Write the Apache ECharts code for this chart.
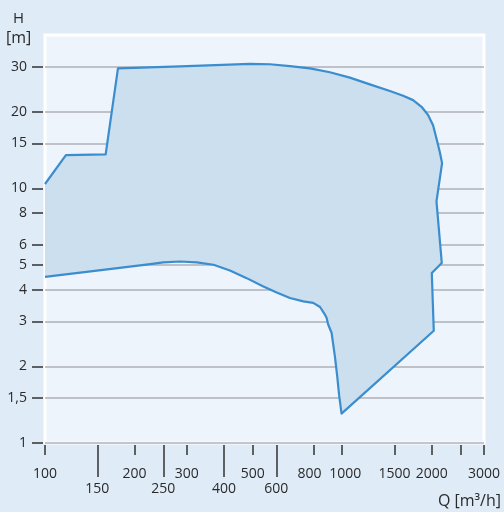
<!DOCTYPE html>
<html><head><meta charset="utf-8">
<script src="https://cdn.jsdelivr.net/npm/echarts@6/dist/echarts.min.js"></script>
<style>html,body{margin:0;padding:0;background:#dfebf7}#c{width:504px;height:512px}</style>
</head><body><div id="c"></div>
<script>
// Operating-range outline (Q in m³/h, H in m), traced clockwise from the left edge
const flowQ = [100, 117.6, 160, 176, 285, 490, 571, 667, 779, 909, 1061, 1239, 1447, 1603, 1732, 1849, 1945, 2022, 2076, 2130, 2168,
  2076, 2163, 2002, 2033,
  995, 977, 962, 945, 921, 897, 886, 875, 842, 799, 740, 667, 602, 543, 477, 419, 369, 324, 285, 250, 226, 184, 100];
const headH = [10.4, 13.5, 13.6, 29.6, 30.1, 30.8, 30.7, 30.2, 29.6, 28.56, 27.2, 25.6, 24.1, 23.1, 22.2, 20.9, 19.4, 17.7, 15.7, 13.9, 12.56,
  8.88, 5.09, 4.65, 2.76,
  1.305, 1.53, 1.83, 2.19, 2.71, 2.92, 3.10, 3.19, 3.42, 3.55, 3.60, 3.71, 3.90, 4.12, 4.44, 4.76, 5.01, 5.12, 5.16, 5.12, 5.04, 4.89, 4.49];
const yTickValues = [1, 1.5, 2, 3, 4, 5, 6, 8, 10, 15, 20, 30];
const xTickValues = [100, 150, 200, 250, 300, 400, 500, 600, 800, 1000, 1500, 2000, 2500, 3000];
const xLabelsUpper = [100, 200, 300, 500, 800, 1000, 1500, 2000, 3000];
const xLabelsLower = [150, 250, 400, 600];

const chart = echarts.init(document.getElementById('c'), null, {renderer: 'canvas'});
const font = 'Open Sans';
const textColor = '#2a2a2a';
const tickStyle = {color: '#333333', width: 1.5};

const option = {
  backgroundColor: '#dfebf7',
  animation: false,
  grid: {left: 45, right: 20, top: 35, bottom: 69, show: true,
         backgroundColor: '#eef4fb', borderColor: '#ffffff', borderWidth: 3},
  xAxis: [
    {type: 'log', logBase: 10, min: 100, max: 3000, offset: 2,
     axisLine: {show: false},
     axisTick: {show: true, length: 10, customValues: xTickValues, lineStyle: tickStyle},
     axisLabel: {customValues: xLabelsUpper, margin: 22, fontFamily: font, fontSize: 14, color: textColor,
                 formatter: v => (v === 800 ? '{l|800}' : v === 1000 ? '{r|1000}' : String(v)),
                 rich: {l: {fontFamily: font, fontSize: 14, color: textColor, padding: [0, 8, 0, 0]},
                        r: {fontFamily: font, fontSize: 14, color: textColor, padding: [0, 0, 0, 6]}}},
     splitLine: {show: false}, minorTick: {show: false}},
    {type: 'log', logBase: 10, min: 100, max: 3000, offset: 2, position: 'bottom',
     axisLine: {show: false},
     axisTick: {show: true, length: 32, customValues: xLabelsLower, lineStyle: tickStyle},
     axisLabel: {customValues: xLabelsLower, margin: 37, fontFamily: font, fontSize: 14, color: textColor,
                 formatter: v => String(v)},
     splitLine: {show: false}, minorTick: {show: false}}
  ],
  yAxis: {type: 'log', logBase: 10, min: 1, max: 40, offset: 2,
    axisLine: {show: false},
    axisTick: {show: true, length: 11, customValues: yTickValues, lineStyle: tickStyle},
    axisLabel: {customValues: yTickValues, margin: 16, fontFamily: font, fontSize: 14, color: textColor,
                formatter: v => String(v).replace('.', ',')},
    splitLine: {show: true, lineStyle: {color: '#aeb2b7', width: 1.5}}
  },
  graphic: [
    {type: 'text', left: 13, top: 11, style: {text: 'H', font: '15px "Open Sans"', fill: textColor}},
    {type: 'text', left: 6, top: 30, style: {text: '[m]', font: '16px "Open Sans"', fill: textColor}},
    {type: 'text', right: 3, top: 493, style: {text: 'Q [m³/h]', font: '16px "Open Sans"', fill: textColor}}
  ],
  series: [
    {type: 'custom', xAxisIndex: 0, yAxisIndex: 0, silent: true, z: 1,
     data: [[flowQ[0], headH[0]]],
     renderItem: (params, api) => ({
       type: 'polygon',
       shape: {points: flowQ.map((q, i) => api.coord([q, headH[i]]))},
       style: {fill: '#cbdfee'}
     })},
    {type: 'line', xAxisIndex: 0, yAxisIndex: 0, z: 3, symbol: 'none', silent: true,
     data: flowQ.map((q, i) => [q, headH[i]]),
     lineStyle: {color: '#3a8dce', width: 2.2, join: 'round'}}
  ]
};
chart.setOption(option);
</script></body></html>
